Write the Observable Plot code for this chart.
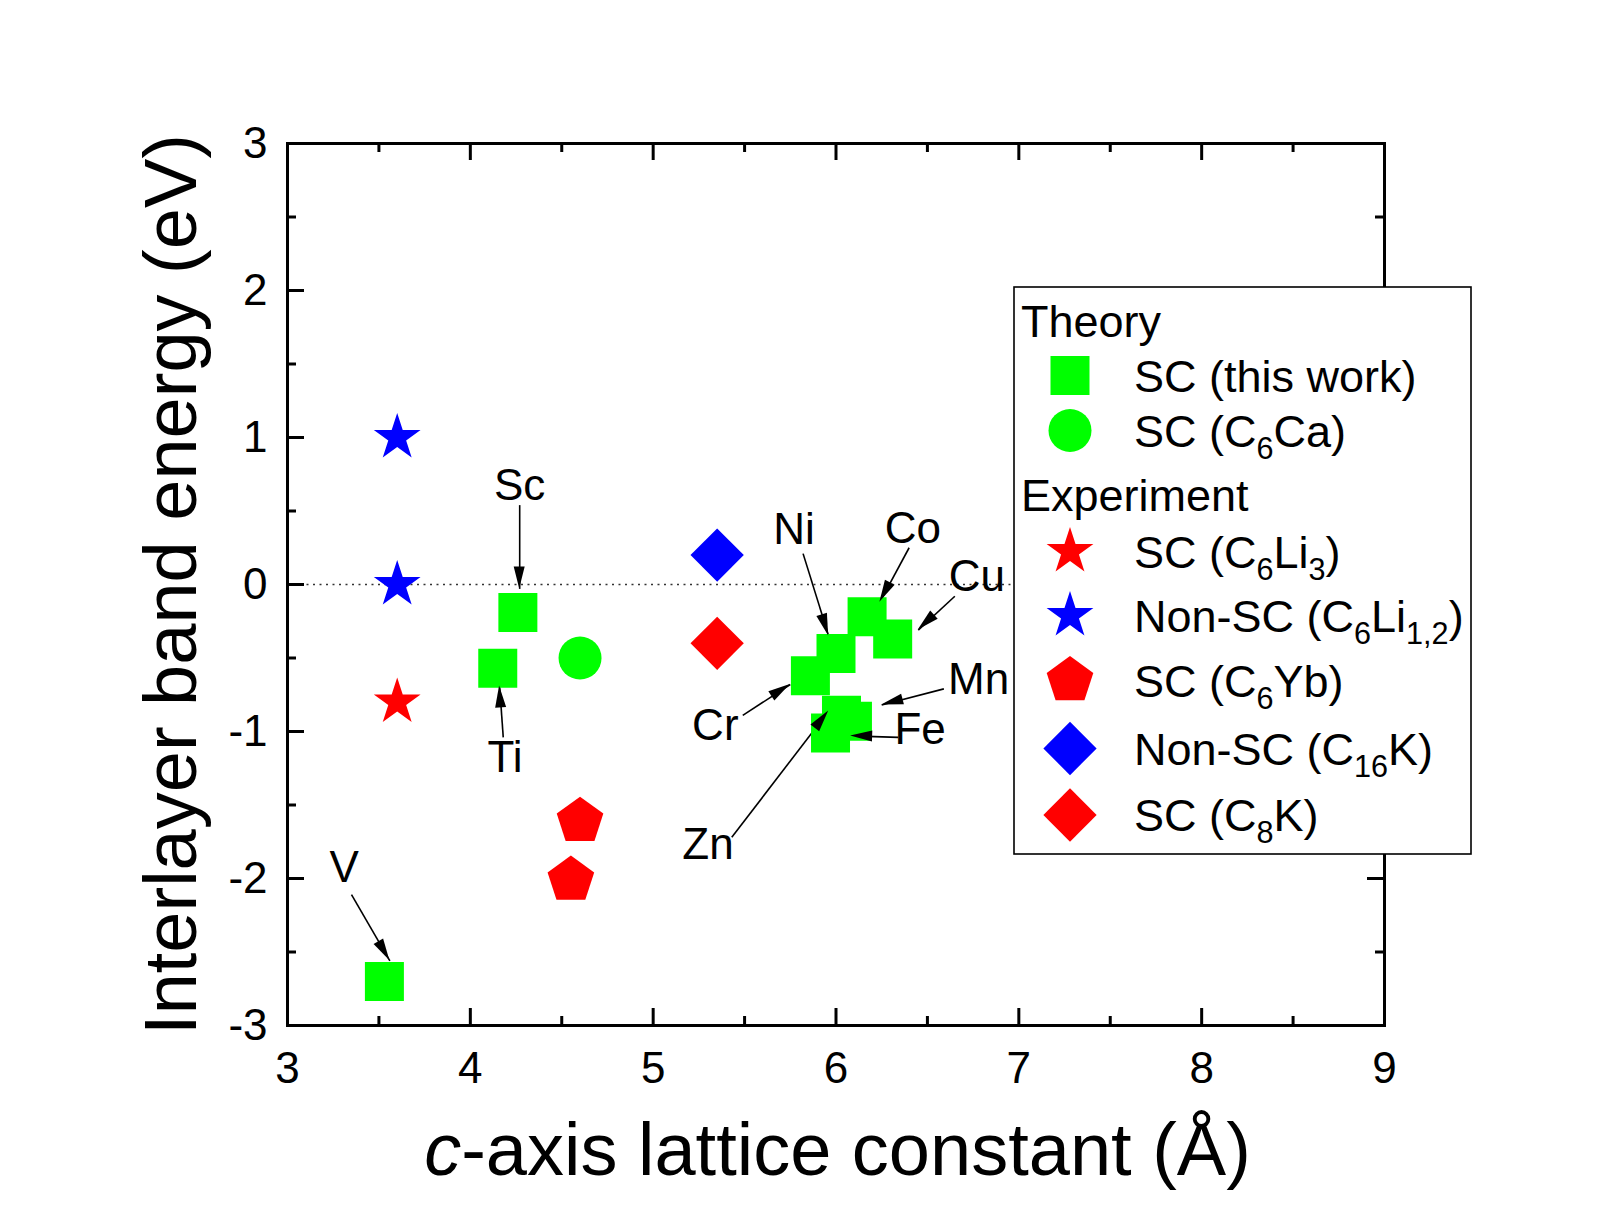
<!DOCTYPE html>
<html><head><meta charset="utf-8">
<script src="https://cdn.jsdelivr.net/npm/d3@7"></script>
<script src="https://cdn.jsdelivr.net/npm/@observablehq/plot@0.6"></script>
<style>body{margin:0;background:#fff;} svg{display:block;}</style>
</head><body><div id="chart"></div>
<script>
// ---- axes ----
const xTicks = [3, 4, 5, 6, 7, 8, 9];
const xMinor = [3.5, 4.5, 5.5, 6.5, 7.5, 8.5];
const yTicks = [-3, -2, -1, 0, 1, 2, 3];
const yMinor = [-2.5, -1.5, -0.5, 0.5, 1.5, 2.5];

// ---- Theory: SC (this work) ----
const thisWorkNames = ["V", "Ti", "Sc", "Cr", "Ni", "Co", "Cu", "Zn", "Mn", "Fe"];
const thisWorkC = [3.53, 4.15, 4.26, 5.86, 6.00, 6.17, 6.31, 6.03, 6.09, 5.97];
const thisWorkE = [-2.70, -0.57, -0.19, -0.62, -0.47, -0.22, -0.37, -0.89, -0.93, -1.01];
// ---- Theory: SC (C6Ca) ----
const c6caC = [4.60];
const c6caE = [-0.50];
// ---- Experiment ----
const c6li3C = [3.60];
const c6li3E = [-0.80];
const c6li12C = [3.60, 3.60];
const c6li12E = [1.00, 0.00];
const c6ybC = [4.60, 4.55];
const c6ybE = [-1.61, -2.01];
const c16kC = [5.35];
const c16kE = [0.20];
const c8kC = [5.35];
const c8kE = [-0.40];

// ---- annotations (data units) ----
const annNames = ["Sc", "Ti", "V", "Ni", "Co", "Cu", "Mn", "Fe", "Cr", "Zn"];
const annLabelX = [4.27, 4.19, 3.31, 5.77, 6.42, 6.77, 6.78, 6.46, 5.34, 5.30];
const annLabelY = [0.67, -1.18, -1.93, 0.37, 0.38, 0.05, -0.65, -0.99, -0.96, -1.77];
const annX1 = [4.27, 4.18, 3.35, 5.82, 6.40, 6.65, 6.59, 6.34, 5.49, 5.43];
const annY1 = [0.54, -1.04, -2.11, 0.21, 0.25, -0.08, -0.71, -1.04, -0.89, -1.72];
const annX2 = [4.27, 4.16, 3.56, 5.96, 6.24, 6.45, 6.25, 6.08, 5.75, 5.96];
const annY2 = [-0.03, -0.69, -2.56, -0.35, -0.12, -0.31, -0.82, -1.03, -0.68, -0.86];

// ---- legend ----
const legendGroups = ["Theory", "Experiment"];
const legendLabels = ["SC (this work)", "SC (C{6}Ca)", "SC (C{6}Li{3})", "Non-SC (C{6}Li{1,2})", "SC (C{6}Yb)", "Non-SC (C{16}K)", "SC (C{8}K)"];

const GREEN = "#00ff00", RED = "#ff0000", BLUE = "#0000ff";
const FONT = "'Liberation Sans', Arial, Helvetica, sans-serif";

const pentagon = {
  draw(ctx, size) {
    const R = Math.sqrt(size / Math.PI);
    for (let i = 0; i < 5; i++) {
      const a = -Math.PI / 2 + i * 2 * Math.PI / 5;
      const px = R * Math.cos(a), py = R * Math.sin(a);
      if (i) ctx.lineTo(px, py); else ctx.moveTo(px, py);
    }
    ctx.closePath();
  }
};

// symbol styles: [symbol, fill, r]
const styles = [
  ["square", GREEN, 22],
  ["circle", GREEN, 21.5],
  ["star", RED, 14.7],
  ["star", BLUE, 14.7],
  [pentagon, RED, 24.5],
  ["diamond2", BLUE, 24],
  ["diamond2", RED, 24]
];
const seriesC = [thisWorkC, c6caC, c6li3C, c6li12C, c6ybC, c16kC, c8kC];
const seriesE = [thisWorkE, c6caE, c6li3E, c6li12E, c6ybE, c16kE, c8kE];

const W = 1609, H = 1232, ML = 287, MR = 225, MT = 143, MB = 207;
const PW = W - ML - MR, PH = H - MT - MB;
const MAJ = 17, MIN = 9;

const ann = annNames.map((n, i) => ({n, lx: annLabelX[i], ly: annLabelY[i], x1: annX1[i], y1: annY1[i], x2: annX2[i], y2: annY2[i]}));

const dotMarks = seriesC.map((cs, k) => {
  const [symbol, fill, r] = styles[k];
  const data = cs.map((c, i) => ({c, e: seriesE[k][i]}));
  return Plot.dot(data, {x: "c", y: "e", symbol: () => symbol, fill, r, stroke: "none"});
});

const chart = Plot.plot({
  width: W, height: H,
  marginLeft: ML, marginRight: MR, marginTop: MT, marginBottom: MB,
  style: {fontFamily: FONT, background: "#fff", color: "#000", overflow: "visible"},
  x: {domain: [3, 9]},
  y: {domain: [-3, 3]},
  marks: [
    Plot.ruleY([0], {stroke: "#333", strokeWidth: 1.6, strokeDasharray: "2,4.5"}),
    Plot.link(ann, {x1: "x1", y1: "y1", x2: "x2", y2: "y2", stroke: "#000", strokeWidth: 1.6}),
    Plot.text(ann, {x: "lx", y: "ly", text: "n", fontSize: 44, fill: "#000"}),
    ...dotMarks,
    // ticks (inward)
    Plot.ruleY(yTicks, {insetRight: PW - MAJ, strokeWidth: 3}),
    Plot.ruleY(yMinor, {insetRight: PW - MIN, strokeWidth: 3}),
    Plot.ruleY(yTicks, {insetLeft: PW - MAJ, strokeWidth: 3}),
    Plot.ruleY(yMinor, {insetLeft: PW - MIN, strokeWidth: 3}),
    Plot.ruleX(xTicks, {insetTop: PH - MAJ, strokeWidth: 3}),
    Plot.ruleX(xMinor, {insetTop: PH - MIN, strokeWidth: 3}),
    Plot.ruleX(xTicks, {insetBottom: PH - MAJ, strokeWidth: 3}),
    Plot.ruleX(xMinor, {insetBottom: PH - MIN, strokeWidth: 3}),
    Plot.frame({stroke: "#000", strokeWidth: 3}),
    Plot.axisX({ticks: xTicks, tickSize: 0, tickPadding: 26, fontSize: 44, tickFormat: d => String(d), label: null}),
    Plot.axisY({ticks: yTicks, tickSize: 0, tickPadding: 20, fontSize: 44, tickFormat: d => String(d), label: null}),
    Plot.text(["Interlayer band energy (eV)"], {frameAnchor: "left", textAnchor: "middle", lineAnchor: "middle", dx: -115, rotate: -90, fontSize: 74, fill: "#000"})
  ]
});
document.getElementById("chart").appendChild(chart);

const svg = d3.select(chart);
const sx = chart.scale("x"), sy = chart.scale("y");

// filled arrowheads
const heads = svg.append("g").attr("fill", "#000");
ann.forEach(a => {
  const px1 = sx.apply(a.x1), py1 = sy.apply(a.y1), px2 = sx.apply(a.x2), py2 = sy.apply(a.y2);
  const dx = px2 - px1, dy = py2 - py1, len = Math.hypot(dx, dy);
  const ux = dx / len, uy = dy / len, nx = -uy, ny = ux;
  const L = 22, hw = 5.5;
  const bx = px2 - ux * L, by = py2 - uy * L;
  heads.append("path").attr("d", `M${px2},${py2}L${bx + nx * hw},${by + ny * hw}L${bx - nx * hw},${by - ny * hw}Z`);
});

// x axis title with italic c
const xt = svg.append("text").attr("x", ML + PW / 2 + 2).attr("y", 1175)
  .attr("text-anchor", "middle").attr("font-size", 74).attr("font-family", FONT).attr("fill", "#000");
xt.append("tspan").attr("font-style", "italic").text("c");
xt.append("tspan").text("-axis lattice constant (Å)");

// legend
function richText(sel, str, fs) {
  const parts = str.split(/(\{[^}]*\})/).filter(s => s.length);
  let sub = false;
  parts.forEach(p => {
    if (p[0] === "{") {
      sel.append("tspan").attr("font-size", fs * 0.68).attr("dy", 12).text(p.slice(1, -1));
      sub = true;
    } else {
      const t = sel.append("tspan").text(p);
      if (sub) { t.attr("dy", -12); sub = false; }
    }
  });
}
const LX = 1014, LY = 287, LW = 457, LH = 567;
const lg = svg.append("g").attr("font-family", FONT).attr("font-size", 45).attr("fill", "#000").attr("text-anchor", "start");
lg.append("rect").attr("x", LX).attr("y", LY).attr("width", LW).attr("height", LH)
  .attr("fill", "#fff").attr("stroke", "#000").attr("stroke-width", 1.6);
const groupBaselines = [336.6, 511];
const itemBaselines = [391.5, 446.5, 567.5, 631.5, 696.5, 764.5, 831];
legendGroups.forEach((g, i) => {
  lg.append("text").attr("x", 1021).attr("y", groupBaselines[i]).attr("text-anchor", "start").text(g);
});
legendLabels.forEach((lab, i) => {
  const [symbol, fill, r] = styles[i];
  const sym = typeof symbol === "string" ? {square: d3.symbolSquare, circle: d3.symbolCircle, star: d3.symbolStar, diamond2: d3.symbolDiamond2}[symbol] : symbol;
  lg.append("path").attr("d", d3.symbol(sym, Math.PI * r * r)())
    .attr("transform", `translate(1070,${itemBaselines[i] - 16})`).attr("fill", fill);
  const t = lg.append("text").attr("x", 1134).attr("y", itemBaselines[i]).attr("text-anchor", "start");
  richText(t, lab, 45);
});
</script>
</body></html>
